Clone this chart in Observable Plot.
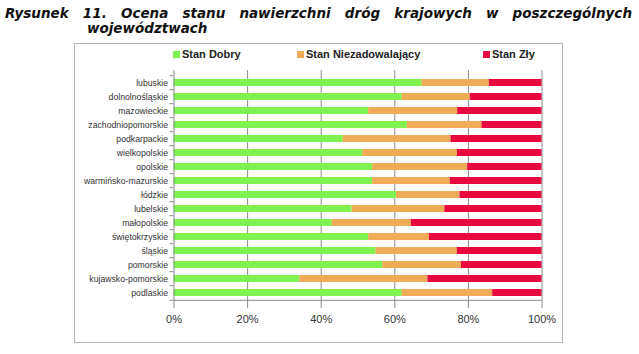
<!DOCTYPE html>
<html>
<head>
<meta charset="utf-8">
<script src="https://cdn.jsdelivr.net/npm/d3@7"></script>
<script src="https://cdn.jsdelivr.net/npm/@observablehq/plot@0.6"></script>
<style>
  body { margin: 0; background: #fff; width: 639px; height: 354px; overflow: hidden; position: relative; }
  .title { position: absolute; font-family: "DejaVu Sans", sans-serif; font-weight: bold; font-style: italic; font-size: 13.5px; line-height: 15px; color: #111; white-space: nowrap; }
  #t1 { left: 5px; top: 6px; width: 627px; text-align: justify; text-align-last: justify; white-space: normal; }
  #t2 { left: 87px; top: 21px; }
  #frame { position: absolute; left: 74px; top: 43px; width: 487px; height: 298px; border: 1px solid #b4b4b4; box-sizing: content-box; }
  .leg { position: absolute; top: 4px; font-family: "Liberation Sans", Arial, sans-serif; font-weight: bold; font-size: 11px; color: #222; display: flex; align-items: center; }
  .leg i { display: inline-block; width: 7px; height: 7px; margin-right: 2px; }
  #chart { position: absolute; left: 0; top: 0; }
</style>
</head>
<body>
<div class="title" id="t1">Rysunek 11. Ocena stanu nawierzchni dróg krajowych w poszczególnych</div>
<div class="title" id="t2">województwach</div>
<div id="frame">
  <div id="legend"></div>
  <div id="chart"></div>
</div>
<script>
const regions = ["lubuskie","dolnolnośląskie","mazowieckie","zachodniopomorskie","podkarpackie","wielkopolskie","opolskie","warmińsko-mazurskie","łódzkie","lubelskie","małopolskie","świętokrzyskie","śląskie","pomorskie","kujawsko-pomorskie","podlaskie"];
const seriesNames = ["Stan Dobry","Stan Niezadowalający","Stan Zły"];
const dobry =           [67.4, 62.0, 52.9, 63.4, 46.0, 51.3, 54.0, 54.0, 60.5, 48.4, 43.0, 52.9, 54.9, 56.7, 34.2, 62.0];
const niezadowalajacy = [18.3, 18.5, 24.2, 20.3, 29.3, 25.7, 25.8, 21.1, 17.2, 25.2, 21.5, 16.5, 22.1, 21.4, 34.8, 24.6];
const zly =             [14.3, 19.5, 22.9, 16.3, 24.7, 23.0, 20.2, 24.9, 22.3, 26.4, 35.5, 30.6, 23.0, 21.9, 31.0, 13.4];
const xTicks = [0, 20, 40, 60, 80, 100];
const colors = ["#80f250", "#efab55", "#e6083e"];

const values = [dobry, niezadowalajacy, zly];
const data = [];
regions.forEach((r, i) => seriesNames.forEach((s, k) => data.push({region: r, series: s, value: values[k][i]})));

// legend
const legPos = [98, 222, 408];
const leg = document.getElementById("legend");
seriesNames.forEach((s, k) => {
  const d = document.createElement("div");
  d.className = "leg";
  d.style.left = legPos[k] + "px";
  d.innerHTML = `<i style="background:${colors[k]}"></i>${s}`;
  leg.appendChild(d);
});

const W = 487, H = 298, mt = 26, mb = 38;
const step = (H - mt - mb) / regions.length;

const chart = Plot.plot({
  width: W,
  height: H,
  marginLeft: 98.5,
  marginRight: 20.5,
  marginTop: mt,
  marginBottom: mb,
  style: {fontFamily: "Liberation Sans, Arial, sans-serif", background: "transparent", color: "#333"},
  x: {domain: [0, 100]},
  y: {domain: regions, paddingInner: 0.5, paddingOuter: 0.25},
  color: {domain: seriesNames, range: colors},
  marks: [
    Plot.gridX(xTicks.slice(1), {stroke: "#8a8a8a", strokeOpacity: 1, strokeWidth: 1}),
    Plot.barX(data, Plot.stackX({y: "region", x: "value", fill: "series", order: seriesNames})),
    Plot.ruleX([0], {stroke: "#8a8a8a"}),
    Plot.ruleY([0], {y: () => regions[regions.length - 1], dy: step / 2, stroke: "#8a8a8a", x1: 0, x2: 100}),
    Plot.axisX({ticks: xTicks, tickFormat: d => d + "%", tickSize: 4, tickPadding: 7, fontSize: 11, stroke: "#8a8a8a", fill: "#333", label: null}),
    Plot.axisY({tickSize: 0, tickPadding: 6, fontSize: 8.7, fill: "#333", label: null}),
    Plot.axisY({tickSize: 4, tickFormat: () => "", dy: -step / 2, stroke: "#8a8a8a", label: null}),
    Plot.axisY([regions[regions.length - 1]], {tickSize: 4, tickFormat: () => "", dy: step / 2, stroke: "#8a8a8a", label: null})
  ]
});
document.getElementById("chart").appendChild(chart);
</script>
</body>
</html>
